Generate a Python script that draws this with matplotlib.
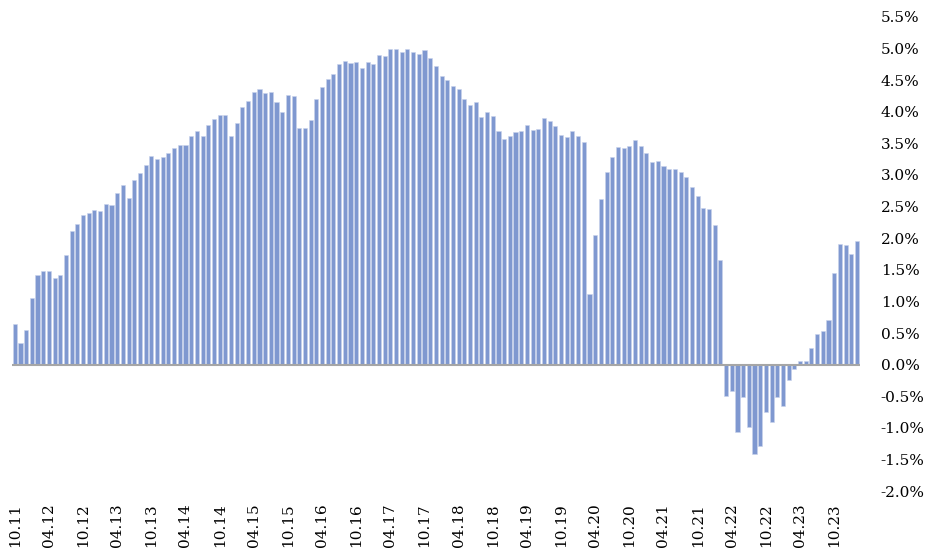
import matplotlib.pyplot as plt
import pandas as pd

# monthly values, Oct 2011 .. Feb 2024 (in %)
months = pd.date_range("2011-10-01", periods=149, freq="MS")
values = [
    0.65, 0.34, 0.54, 1.06, 1.42, 1.48, 1.48, 1.37, 1.41, 1.73, 2.12, 2.23, 2.36,
    2.40, 2.45, 2.43, 2.54, 2.52, 2.71, 2.84, 2.64, 2.92, 3.03, 3.16, 3.30, 3.26,
    3.28, 3.35, 3.43, 3.47, 3.47, 3.62, 3.70, 3.62, 3.79, 3.89, 3.95, 3.95,
    3.62, 3.82, 4.07, 4.17, 4.32, 4.36, 4.29, 4.32, 4.15, 4.00, 4.27, 4.25,
    3.74, 3.74, 3.87, 4.20, 4.40, 4.52, 4.60, 4.75, 4.80, 4.77, 4.78, 4.70, 4.79,
    4.76, 4.90, 4.88, 5.00, 4.99, 4.95, 5.00, 4.94, 4.91, 4.97, 4.85, 4.72, 4.57, 4.50,
    4.41, 4.36, 4.20, 4.10, 4.15, 3.92, 4.00, 3.93, 3.69, 3.57, 3.61, 3.68,
    3.70, 3.79, 3.71, 3.72, 3.90, 3.85, 3.78, 3.64, 3.60, 3.69, 3.62, 3.52,
    1.12, 2.05, 2.62, 3.05, 3.29, 3.44, 3.42, 3.46, 3.55, 3.46, 3.35, 3.21,
    3.22, 3.14, 3.10, 3.09, 3.05, 2.97, 2.81, 2.67, 2.48, 2.46, 2.21, 1.66,
    -0.50, -0.42, -1.06, -0.52, -0.99, -1.41, -1.29, -0.75, -0.91, -0.51, -0.66, -0.245,
    -0.07, 0.06, 0.055, 0.27, 0.48, 0.53, 0.71, 1.45, 1.91, 1.90, 1.75, 1.96,
]
y_ticks = [-2.0 + 0.5 * i for i in range(16)]
tick_idx = list(range(0, len(months), 6))
tick_labels = [months[i].strftime("%m.%y") for i in tick_idx]

plt.rcParams['font.family'] = ['DejaVu Serif']

fig = plt.figure(figsize=(9.4, 5.48), dpi=100)
ax = fig.add_axes([0.0127, 0.104, 0.902, 0.865])

x = list(range(len(values)))
ax.bar(x, values, width=0.72, color='#7f98d0', edgecolor='#c9d3ec', linewidth=0.4)
ax.axhline(0, color='#a6a6a6', lw=1.5, zorder=3)

ax.set_xlim(-0.5, len(values) - 0.5)
ax.set_ylim(-2.0, 5.5)
ax.set_xticks(tick_idx)
ax.set_xticklabels(tick_labels, rotation=90, fontsize=11)
ax.set_yticks(y_ticks)
ax.set_yticklabels([f"{v:.1f}%" for v in y_ticks], fontsize=11)
ax.yaxis.tick_right()
ax.tick_params(axis='y', length=0, pad=15)
ax.tick_params(axis='x', length=0, pad=9)
for s in ax.spines.values():
    s.set_visible(False)

fig.savefig("out.png", dpi=100)
